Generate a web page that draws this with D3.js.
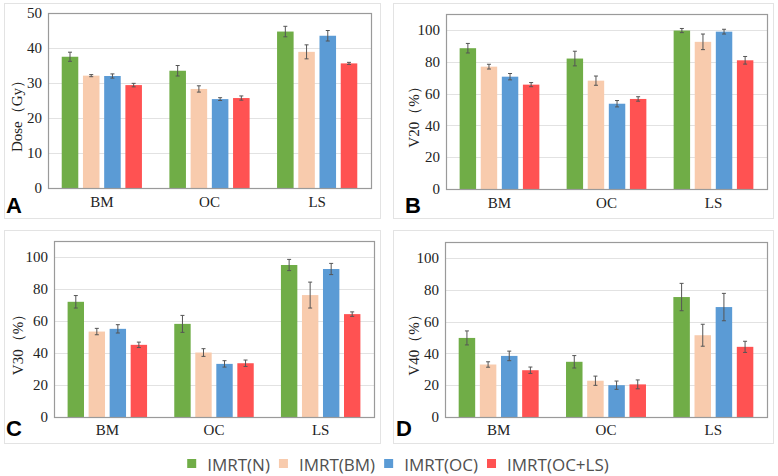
<!DOCTYPE html>
<html><head><meta charset="utf-8">
<script src="https://cdnjs.cloudflare.com/ajax/libs/d3/7.8.5/d3.min.js"></script>
<style>html,body{margin:0;padding:0;background:#fff;}svg{display:block;}</style>
</head><body>
<svg id="chart" width="778" height="476"></svg>
<script>
const categories = ["BM", "OC", "LS"];
const seriesNames = ["IMRT(N)", "IMRT(BM)", "IMRT(OC)", "IMRT(OC+LS)"];
const seriesColors = ["#70AD47", "#F8CBAD", "#5B9BD5", "#FF5252"];

// values per category (rows) and series (columns)
const doseMean = [[37.5, 32.1, 32.0, 29.4], [33.5, 28.3, 25.4, 25.7], [44.7, 38.9, 43.5, 35.6]];
const doseErr  = [[1.3, 0.3, 0.6, 0.5], [1.5, 0.9, 0.4, 0.6], [1.5, 2.0, 1.5, 0.3]];
const v20Mean  = [[88.5, 76.9, 70.6, 65.6], [82.0, 68.1, 53.6, 56.6], [99.6, 92.5, 98.9, 80.9]];
const v20Err   = [[3.0, 1.5, 2.0, 1.3], [4.6, 2.9, 2.0, 1.4], [1.3, 4.9, 1.5, 2.4]];
const v30Mean  = [[72.0, 53.4, 55.1, 45.1], [58.2, 40.3, 33.2, 33.6], [95.0, 76.2, 92.5, 64.3]];
const v30Err   = [[3.9, 2.0, 2.6, 1.7], [5.3, 2.4, 2.0, 2.0], [3.5, 8.1, 3.5, 1.4]];
const v40Mean  = [[49.7, 33.0, 38.4, 29.4], [34.7, 22.8, 20.0, 20.5], [75.4, 51.4, 69.1, 44.1]];
const v40Err   = [[4.4, 1.7, 3.0, 2.0], [3.9, 2.9, 2.6, 2.8], [8.6, 6.9, 8.6, 3.5]];

const doseTicks = [0, 10, 20, 30, 40, 50];
const pctTicks = [0, 20, 40, 60, 80, 100];

const panels = [
  {label: "A", title: "Dose\uFF08Gy\uFF09", mean: doseMean, err: doseErr, max: 50, ticks: doseTicks,
   frame: [4, 3, 380, 218], plot: [48, 13, 371, 188], titleX: 17, labelXY: [6, 213], catY: 207},
  {label: "B", title: "V20\uFF08%\uFF09", mean: v20Mean, err: v20Err, max: 110, ticks: pctTicks,
   frame: [393, 3, 773, 218], plot: [446, 14, 767, 189], titleX: 414, labelXY: [405, 213], catY: 208},
  {label: "C", title: "V30\uFF08%\uFF09", mean: v30Mean, err: v30Err, max: 110, ticks: pctTicks,
   frame: [4, 230, 380, 443], plot: [54, 241, 374, 417], titleX: 18, labelXY: [6, 436], catY: 435},
  {label: "D", title: "V40\uFF08%\uFF09", mean: v40Mean, err: v40Err, max: 110, ticks: pctTicks,
   frame: [393, 230, 773, 443], plot: [445, 242, 767, 417], titleX: 414, labelXY: [396, 436], catY: 435}
];

const svg = d3.select("#chart");
const serif = "'Liberation Serif', 'Times New Roman', serif";

panels.forEach(p => {
  const g = svg.append("g");
  const [fx0, fy0, fx1, fy1] = p.frame;
  g.append("rect").attr("x", fx0 + 0.5).attr("y", fy0 + 0.5)
    .attr("width", fx1 - fx0).attr("height", fy1 - fy0)
    .attr("fill", "none").attr("stroke", "#e3e3e3").attr("stroke-width", 1);

  const [px0, py0, px1, py1] = p.plot;
  const x0 = d3.scaleBand().domain(categories).range([px0, px1]).paddingInner(0).paddingOuter(0);
  const innerW = x0.bandwidth() * 0.745;
  const x1 = d3.scaleBand().domain(seriesNames).range([-innerW / 2, innerW / 2]).paddingInner(0.22).paddingOuter(0);
  const y = d3.scaleLinear().domain([0, p.max]).range([py1, py0]);

  // gridlines
  g.append("g").selectAll("line").data(p.ticks.filter(t => t > 0 && t < p.max)).join("line")
    .attr("x1", px0).attr("x2", px1)
    .attr("y1", d => Math.round(y(d)) + 0.5).attr("y2", d => Math.round(y(d)) + 0.5)
    .attr("stroke", "#e2e2e2").attr("stroke-width", 1);

  // y axis tick labels
  const yAxis = d3.axisLeft(y).tickValues(p.ticks).tickSize(0).tickPadding(6);
  const ya = g.append("g").attr("transform", `translate(${px0},0)`).call(yAxis)
    .attr("font-family", serif).attr("font-size", 15);
  ya.select(".domain").remove();
  ya.selectAll("text").style("font-family", serif).attr("font-size", 15).attr("fill", "#222");

  // x axis labels
  const xAxis = d3.axisBottom(x0).tickSize(0).tickPadding(0);
  const xa = g.append("g").attr("transform", `translate(0,${p.catY})`).call(xAxis)
    .attr("font-family", serif).attr("font-size", 15);
  xa.select(".domain").remove();
  xa.selectAll("text").style("font-family", serif).attr("font-size", 15).attr("fill", "#222")
    .attr("dy", 0).attr("y", 0);

  // bars
  const rows = [];
  categories.forEach((c, i) => seriesNames.forEach((s, j) => rows.push({c, s, j, v: p.mean[i][j], e: p.err[i][j]})));
  const bg = g.append("g");
  bg.selectAll("rect").data(rows).join("rect")
    .attr("x", d => x0(d.c) + x0.bandwidth() / 2 + x1(d.s))
    .attr("width", x1.bandwidth())
    .attr("y", d => y(d.v))
    .attr("height", d => y(0) - y(d.v))
    .attr("fill", d => seriesColors[d.j]);

  // error bars
  const eg = g.append("g").attr("stroke", "#555").attr("stroke-width", 1);
  rows.forEach(d => {
    const cx = x0(d.c) + x0.bandwidth() / 2 + x1(d.s) + x1.bandwidth() / 2;
    eg.append("line").attr("x1", cx).attr("x2", cx).attr("y1", y(d.v + d.e)).attr("y2", y(d.v - d.e));
    eg.append("line").attr("x1", cx - 2).attr("x2", cx + 2).attr("y1", y(d.v + d.e)).attr("y2", y(d.v + d.e));
    eg.append("line").attr("x1", cx - 2).attr("x2", cx + 2).attr("y1", y(d.v - d.e)).attr("y2", y(d.v - d.e));
  });

  // plot border
  g.append("rect").attr("x", px0 + 0.5).attr("y", py0 + 0.5)
    .attr("width", px1 - px0).attr("height", py1 - py0)
    .attr("fill", "none").attr("stroke", "#9a9a9a").attr("stroke-width", 1.2);

  // y title
  const tyc = (py0 + py1) / 2 + 12;
  g.append("text").attr("transform", `translate(${p.titleX},${tyc}) rotate(-90)`)
    .attr("text-anchor", "middle").attr("dominant-baseline", "central")
    .style("font-family", serif).attr("font-size", 15).attr("fill", "#222").text(p.title);

  // panel label
  g.append("text").attr("x", p.labelXY[0]).attr("y", p.labelXY[1])
    .attr("font-family", "'Liberation Sans', Arial, sans-serif").attr("font-weight", "bold")
    .attr("font-size", 22).attr("fill", "#000").text(p.label);
});

// legend
const lg = svg.append("g");
const items = lg.selectAll("g").data(seriesNames).join("g");
items.append("rect").attr("width", 9).attr("height", 9).attr("y", 459).attr("fill", (d, i) => seriesColors[i]);
items.append("text").attr("x", 20).attr("y", 464).attr("dominant-baseline", "central")
  .attr("font-family", "'Open Sans', sans-serif").attr("font-size", 17).attr("fill", "#505050").text(d => d);
let xpos = 0;
const widths = [];
items.each(function() { widths.push(d3.select(this).select("text").node().getComputedTextLength()); });
const offsets = widths.map((w, i) => { const o = xpos; xpos += 20 + w + 9; return o; });
const total = xpos - 9;
const startX = 398 - total / 2;
items.attr("transform", (d, i) => `translate(${startX + offsets[i]},0)`);
</script>
</body></html>
